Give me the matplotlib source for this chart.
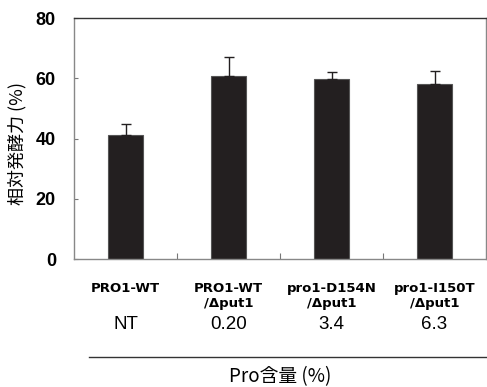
import matplotlib.pyplot as plt
import numpy as np

# data
strains = ["PRO1-WT", "PRO1-WT\n/Δput1", "pro1-D154N\n/Δput1", "pro1-I150T\n/Δput1"]
activity = [41.2, 60.9, 59.9, 58.1]
errors = [3.5, 6.2, 2.1, 4.2]
pro_content = ["NT", "0.20", "3.4", "6.3"]

fig = plt.figure(figsize=(4.87, 3.87), dpi=100)
ax = fig.add_axes([74 / 487, 1 - 259 / 387, 412 / 487, 241 / 387])

x = np.arange(len(strains))
ax.bar(x, activity, width=0.34, color="#231f20", edgecolor="#555555", linewidth=0.8,
       yerr=[np.zeros(len(errors)), errors], capsize=3.5,
       error_kw=dict(ecolor="#231f20", elinewidth=1.0, capthick=1.0))

ax.set_xlim(-0.5, len(strains) - 0.5)
ax.set_ylim(0, 80)
ax.set_yticks([0, 20, 40, 60, 80])
ax.set_yticklabels(["0", "20", "40", "60", "80"], fontsize=13, fontweight="bold",
                   family="Liberation Sans")
ax.tick_params(axis="y", direction="in", length=3, color="#777777", pad=13)
ax.set_xticks(np.arange(0.5, len(strains) - 1, 1.0))
ax.set_xticklabels([])
ax.tick_params(axis="x", direction="in", length=4, color="#777777")

for side in ["left", "bottom", "right"]:
    ax.spines[side].set_color("#888888")
ax.spines["top"].set_color("#333333")
for s in ax.spines.values():
    s.set_linewidth(1.0)

ax.set_ylabel("相対発酵力 (%)", fontsize=13, family=["Noto Sans CJK JP", "DejaVu Sans"])
ax.yaxis.set_label_coords(-0.115, 0.48)

# strain labels and Pro content under the axis
for i, (name, val) in enumerate(zip(strains, pro_content)):
    ax.text(i, -7.5, name, ha="center", va="top", fontsize=9.5, fontweight="bold",
            family="DejaVu Sans", linespacing=1.25, clip_on=False)
    ax.text(i, -19.0, val, ha="center", va="top", fontsize=13.5,
            family="Liberation Sans", clip_on=False)

fig.add_artist(plt.Line2D([89 / 487, 1.0], [1 - 357 / 387, 1 - 357 / 387],
                          color="#333333", linewidth=1.0))
fig.text(280 / 487, 1 - 377 / 387, "Pro含量 (%)", ha="center", va="center", fontsize=13.5,
         family=["Noto Sans CJK JP", "DejaVu Sans"])

fig.savefig("out.png", dpi=100)
